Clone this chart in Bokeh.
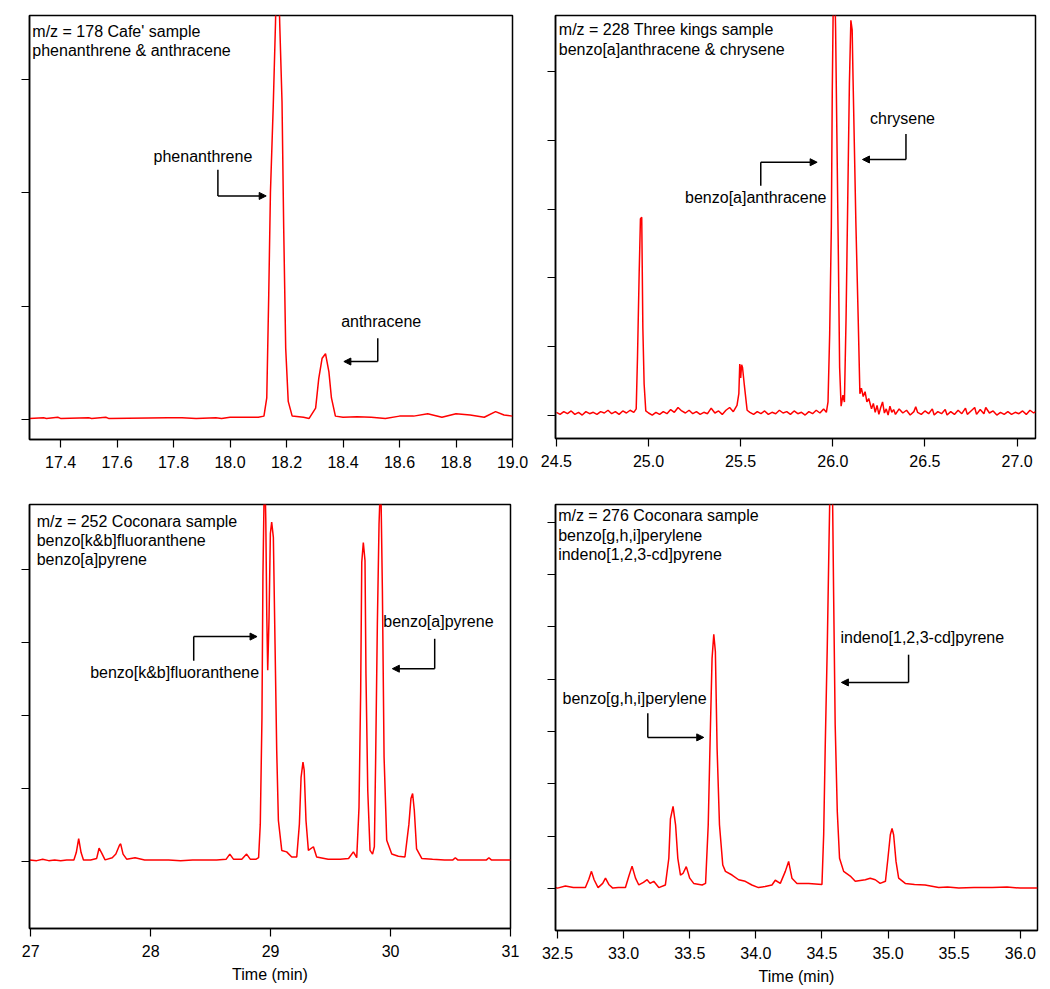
from bokeh.plotting import figure
from bokeh.layouts import gridplot
from bokeh.models import (Range1d, FixedTicker, Arrow, NormalHead, ColumnDataSource,
                          NumeralTickFormatter, CustomLabelingPolicy)
from bokeh.core.properties import value
from bokeh.embed import file_html
from bokeh.resources import INLINE

FONT = "Liberation Sans"

# ---------------- Panel 1: m/z 178 ----------------
p1_time = [17.29, 17.34, 17.35, 17.39, 17.40, 17.50, 17.51, 17.56, 17.57, 17.78, 17.83, 17.88, 17.95,
           17.97, 18.00, 18.05, 18.10, 18.12, 18.13, 18.137, 18.143, 18.153, 18.161, 18.168, 18.176,
           18.184, 18.19, 18.197, 18.206, 18.22, 18.26, 18.28, 18.303, 18.314, 18.326, 18.338, 18.35,
           18.359, 18.373, 18.40, 18.45, 18.50, 18.55, 18.60, 18.65, 18.70, 18.75, 18.80, 18.85, 18.90,
           18.94, 18.97, 19.00]
p1_int = [0.01, 0.015, 0.01, 0.02, 0.01, 0.015, 0.01, 0.02, 0.01, 0.015, 0.015, 0.01, 0.015,
          0.01, 0.02, 0.02, 0.02, 0.03, 0.19, 1.10, 2.00, 2.77, 3.50, 4.30, 3.48,
          2.80, 1.68, 0.63, 0.16, 0.03, 0.02, 0.01, 0.10, 0.36, 0.54, 0.58, 0.42,
          0.19, 0.03, 0.02, 0.025, 0.02, 0.01, 0.03, 0.03, 0.05, 0.02, 0.05, 0.04, 0.02,
          0.07, 0.04, 0.03]
p1_header = ["m/z = 178 Cafe' sample", "phenanthrene & anthracene"]
p1_xticks = [17.4, 17.6, 17.8, 18.0, 18.2, 18.4, 18.6, 18.8, 19.0]

# ---------------- Panel 2: m/z 228 ----------------
p2_time = [24.50, 24.52, 24.54, 24.56, 24.58, 24.60, 24.62, 24.64, 24.66, 24.68, 24.70, 24.72, 24.74,
           24.76, 24.78, 24.80, 24.82, 24.84, 24.86, 24.88, 24.90, 24.92, 24.933, 24.940, 24.949,
           24.956, 24.963, 24.969, 24.976, 24.985, 25.00, 25.02, 25.04, 25.06, 25.08, 25.10, 25.12,
           25.14, 25.16, 25.18, 25.20, 25.22, 25.24, 25.26, 25.28, 25.30, 25.32, 25.34, 25.36, 25.38,
           25.40, 25.42, 25.44, 25.46, 25.48, 25.49, 25.495, 25.50, 25.505, 25.51, 25.52, 25.535,
           25.55, 25.57, 25.59, 25.61, 25.63, 25.65, 25.67, 25.69, 25.71, 25.73, 25.75, 25.77, 25.79,
           25.81, 25.83, 25.85, 25.87, 25.89, 25.91, 25.93, 25.95, 25.965, 25.974, 25.983, 25.992,
           25.997, 26.004, 26.010, 26.015, 26.022, 26.030, 26.037, 26.045, 26.055, 26.063, 26.072,
           26.081, 26.090, 26.098, 26.105, 26.110, 26.125, 26.138, 26.147, 26.155, 26.165, 26.175,
           26.185, 26.195, 26.21, 26.22, 26.23, 26.24, 26.25, 26.26, 26.27, 26.28, 26.29, 26.30,
           26.31, 26.32, 26.33, 26.34, 26.36, 26.38, 26.40, 26.42, 26.44, 26.45, 26.46, 26.48, 26.50,
           26.52, 26.54, 26.55, 26.57, 26.59, 26.61, 26.62, 26.64, 26.66, 26.68, 26.70, 26.72, 26.73,
           26.75, 26.77, 26.78, 26.80, 26.82, 26.83, 26.85, 26.87, 26.89, 26.91, 26.93, 26.95, 26.97,
           26.99, 27.01, 27.03, 27.05, 27.07, 27.09, 27.10]
p2_int = [0.05, 0.02, 0.06, 0.03, 0.07, 0.02, 0.05, 0.01, 0.06, 0.03, 0.05, 0.02, 0.06,
          0.04, 0.08, 0.03, 0.06, 0.02, 0.07, 0.04, 0.08, 0.05, 0.10, 0.85, 2.06,
          2.86, 2.88, 1.28, 0.46, 0.07, 0.04, 0.01, 0.05, 0.02, 0.06, 0.03, 0.09,
          0.05, 0.12, 0.07, 0.04, 0.08, 0.03, 0.06, 0.02, 0.05, 0.03, 0.11, 0.04, 0.07,
          0.02, 0.08, 0.12, 0.06, 0.15, 0.32, 0.75, 0.55, 0.74, 0.70, 0.44, 0.08,
          0.05, 0.02, 0.06, 0.03, 0.07, 0.02, 0.05, 0.03, 0.08, 0.04, 0.06, 0.02, 0.07,
          0.03, 0.05, 0.01, 0.06, 0.03, 0.08, 0.04, 0.10, 0.05, 0.20, 1.19, 2.74,
          4.68, 6.40, 6.30, 5.64, 4.10, 2.35, 0.70, 0.14, 0.30, 0.20, 1.43,
          3.12, 4.82, 5.74, 5.60, 4.87, 2.82, 1.38, 0.32, 0.40, 0.28, 0.35,
          0.20, 0.25, 0.10, 0.18, 0.05, 0.15, 0.02, 0.12, 0.20, 0.04, 0.10, 0.01,
          0.14, 0.05, 0.09, 0.02, 0.10, 0.04, 0.08, 0.01, 0.06, 0.13, 0.05, 0.02, 0.07,
          0.03, 0.10, 0.01, 0.06, 0.03, 0.09, 0.01, 0.06, 0.02, 0.08, 0.03, 0.11, 0.02,
          0.07, 0.12, 0.02, 0.09, 0.03, 0.12, 0.04, 0.07, 0.01, 0.05, 0.02, 0.06, 0.02,
          0.05, 0.03, 0.07, 0.02, 0.08, 0.04, 0.06]
p2_header = ["m/z = 228 Three kings sample", "benzo[a]anthracene & chrysene"]
p2_xticks = [24.5, 25.0, 25.5, 26.0, 26.5, 27.0]

# ---------------- Panel 3: m/z 252 ----------------
p3_time = [26.99, 27.05, 27.10, 27.15, 27.20, 27.25, 27.30, 27.36, 27.38, 27.40, 27.42, 27.44,
           27.50, 27.55, 27.57, 27.59, 27.62, 27.68, 27.71, 27.74, 27.75, 27.77, 27.80, 27.87,
           27.95, 28.05, 28.15, 28.25, 28.35, 28.45, 28.55, 28.63, 28.66, 28.69, 28.76, 28.80,
           28.83, 28.88, 28.90, 28.914, 28.928, 28.936, 28.95, 28.96, 28.968, 28.976, 28.987,
           28.998, 29.009, 29.023, 29.037, 29.051, 29.065, 29.093, 29.134, 29.176, 29.218, 29.24,
           29.254, 29.27, 29.28, 29.295, 29.315, 29.357, 29.384, 29.48, 29.58, 29.65, 29.69, 29.718,
           29.737, 29.751, 29.76, 29.773, 29.787, 29.795, 29.81, 29.829, 29.85, 29.865, 29.876,
           29.89, 29.904, 29.918, 29.932, 29.946, 29.968, 30.01, 30.065, 30.12, 30.153, 30.17,
           30.184, 30.198, 30.217, 30.26, 30.35, 30.45, 30.52, 30.54, 30.56, 30.65, 30.75, 30.80,
           30.82, 30.84, 30.92, 31.00]
p3_int = [0.02, 0.01, 0.03, 0.01, 0.02, 0.01, 0.02, 0.02, 0.12, 0.31, 0.12, 0.02,
          0.02, 0.04, 0.18, 0.12, 0.02, 0.05, 0.10, 0.22, 0.24, 0.10, 0.03, 0.05,
          0.02, 0.02, 0.02, 0.01, 0.02, 0.02, 0.02, 0.03, 0.10, 0.03, 0.03, 0.10,
          0.03, 0.03, 0.05, 0.51, 1.97, 3.90, 5.50, 4.67, 3.39, 2.62, 3.34,
          4.49, 4.65, 4.44, 2.98, 1.52, 0.56, 0.15, 0.13, 0.06, 0.06, 0.51,
          1.15, 1.36, 1.25, 0.56, 0.15, 0.20, 0.06, 0.03, 0.03, 0.04, 0.13, 0.05,
          0.74, 2.34, 4.10, 4.37, 4.12, 2.57, 0.97, 0.15, 0.10, 0.20, 1.43,
          3.25, 4.62, 5.30, 3.71, 1.43, 0.29, 0.10, 0.07, 0.06, 0.51, 0.86,
          0.93, 0.70, 0.17, 0.04, 0.03, 0.02, 0.02, 0.05, 0.02, 0.02, 0.02, 0.02,
          0.05, 0.02, 0.02, 0.02]
p3_header = ["m/z = 252 Coconara sample", "benzo[k&b]fluoranthene", "benzo[a]pyrene"]
p3_xticks = [27, 28, 29, 30, 31]

# ---------------- Panel 4: m/z 276 ----------------
p4_time = [32.485, 32.50, 32.56, 32.62, 32.711, 32.737, 32.757, 32.777, 32.807, 32.842, 32.863,
           32.888, 32.918, 32.96, 33.014, 33.04, 33.064, 33.09, 33.115, 33.15, 33.178, 33.20,
           33.228, 33.266, 33.316, 33.342, 33.354, 33.374, 33.393, 33.41, 33.43, 33.449, 33.474,
           33.50, 33.53, 33.594, 33.62, 33.64, 33.657, 33.669, 33.682, 33.694, 33.707, 33.725,
           33.75, 33.77, 33.82, 33.87, 33.92, 33.97, 34.02, 34.07, 34.122, 34.147, 34.185, 34.223,
           34.248, 34.273, 34.311, 34.40, 34.50, 34.513, 34.525, 34.54, 34.553, 34.563, 34.578,
           34.588, 34.60, 34.616, 34.633, 34.664, 34.714, 34.752, 34.828, 34.865, 34.903, 34.94,
           34.98, 34.999, 35.017, 35.03, 35.042, 35.06, 35.08, 35.13, 35.20, 35.28, 35.383,
           35.45, 35.535, 35.65, 35.787, 35.90, 36.00, 36.13]
p4_int = [0.02, 0.01, 0.05, 0.02, 0.02, 0.18, 0.33, 0.17, 0.02, 0.10, 0.20,
          0.08, 0.01, 0.02, 0.02, 0.24, 0.43, 0.20, 0.07, 0.12, 0.17, 0.10,
          0.14, 0.02, 0.07, 0.58, 1.33, 1.57, 1.22, 0.58, 0.26, 0.29, 0.42,
          0.20, 0.10, 0.07, 0.10, 1.22, 3.13, 4.40, 4.86, 4.53, 2.68, 1.22,
          0.45, 0.33, 0.26, 0.17, 0.14, 0.07, 0.02, 0.04, 0.07, 0.16, 0.10, 0.33,
          0.52, 0.20, 0.10, 0.10, 0.08, 1.03, 2.75, 4.60, 6.57, 8.00, 8.00,
          5.68, 3.13, 1.47, 0.58, 0.33, 0.24, 0.14, 0.17, 0.20, 0.17, 0.10,
          0.14, 0.58, 1.03, 1.15, 1.03, 0.52, 0.20, 0.10, 0.08, 0.07, 0.02,
          0.03, 0.01, 0.02, 0.02, 0.03, 0.01, 0.01]
p4_header = ["m/z = 276 Coconara sample", "benzo[g,h,i]perylene", "indeno[1,2,3-cd]pyrene"]
p4_xticks = [32.5, 33.0, 33.5, 34.0, 34.5, 35.0, 35.5, 36.0]

# ---------------- Peak labels (text, text x, text y, elbow x, elbow y-start, corner y, arrow tip x) ----
p1_labels = [("phenanthrene", 17.904, 2.317, 17.957, 2.20, 1.97, 18.128),
             ("anthracene", 18.535, 0.863, 18.523, 0.716, 0.511, 18.403)]
p2_labels = [("chrysene", 26.378, 4.31, 26.397, 4.09, 3.72, 26.161),
             ("benzo[a]anthracene", 25.582, 3.17, 25.609, 3.34, 3.68, 25.915)]
p3_labels = [("benzo[k&b]fluoranthene", 28.20, 2.59, 28.359, 2.75, 3.08, 28.887),
             ("benzo[a]pyrene", 30.399, 3.28, 30.368, 3.05, 2.64, 30.015)]
p4_labels = [("indeno[1,2,3-cd]pyrene", 35.259, 4.79, 35.155, 4.47, 3.94, 34.647),
             ("benzo[g,h,i]perylene", 33.083, 3.63, 33.183, 3.35, 2.89, 33.606)]


def panel(t, y, xr, yr, xticks, yticks, fmt, header, hx, hy0, hdy, labels,
          fw, fh, bl, br, bt, bb, xlabel=None):
    p = figure(frame_width=fw, frame_height=fh, x_range=Range1d(*xr), y_range=Range1d(*yr),
               output_backend="svg", toolbar_location=None,
               min_border_left=bl, min_border_right=br, min_border_top=bt, min_border_bottom=bb)
    p.grid.visible = False
    p.outline_line_color = "black"
    p.outline_line_width = 1.5
    p.outline_line_alpha = 1.0
    p.background_fill_color = "white"
    p.border_fill_color = "white"

    p.line(t, y, line_color="#ff0000", line_width=1.5)

    # axes
    for ax in (p.xaxis[0], p.yaxis[0]):
        ax.axis_line_color = "black"
        ax.axis_line_width = 1.5
        ax.major_tick_line_color = "black"
        ax.major_tick_line_width = 1.2
        ax.major_tick_out = 8
        ax.major_tick_in = 0
        ax.minor_tick_line_color = None
    p.xaxis.ticker = FixedTicker(ticks=xticks)
    p.xaxis.formatter = NumeralTickFormatter(format=fmt)
    p.xaxis.major_label_text_font = FONT
    p.xaxis.major_label_text_font_size = "16px"
    p.xaxis.major_label_text_color = "black"
    p.xaxis.major_label_standoff = 8
    p.yaxis.ticker = FixedTicker(ticks=yticks)
    # unlabeled intensity axis: ticks only
    p.yaxis.major_label_policy = CustomLabelingPolicy(code="return []")
    p.yaxis.major_label_standoff = 0
    if xlabel:
        p.xaxis.axis_label = xlabel
        p.xaxis.axis_label_text_font = FONT
        p.xaxis.axis_label_text_font_size = "16px"
        p.xaxis.axis_label_text_font_style = "normal"
        p.xaxis.axis_label_text_color = "black"
        p.xaxis.axis_label_standoff = 6

    # header text
    hsrc = ColumnDataSource(dict(x=[hx] * len(header),
                                 y=[hy0 - i * hdy for i in range(len(header))],
                                 text=header))
    p.text(x="x", y="y", text="text", source=hsrc, text_font=value(FONT), text_font_size="16px",
           text_color="black", text_align="left", text_baseline="middle")

    # peak labels with elbow arrows
    lsrc = ColumnDataSource(dict(x=[l[1] for l in labels], y=[l[2] for l in labels],
                                 text=[l[0] for l in labels]))
    p.text(x="x", y="y", text="text", source=lsrc, text_font=value(FONT), text_font_size="16px",
           text_color="black", text_align="center", text_baseline="middle")
    p.segment(x0=[l[3] for l in labels], y0=[l[4] for l in labels],
              x1=[l[3] for l in labels], y1=[l[5] for l in labels],
              line_color="black", line_width=1.5)
    asrc = ColumnDataSource(dict(x0=[l[3] for l in labels], y0=[l[5] for l in labels],
                                 x1=[l[6] for l in labels], y1=[l[5] for l in labels]))
    p.add_layout(Arrow(x_start="x0", y_start="y0", x_end="x1", y_end="y1", source=asrc,
                       line_color="black", line_width=1.5,
                       end=NormalHead(size=7, fill_color="black", line_color="black", line_width=1)))
    return p


f1 = panel(p1_time, p1_int, (17.29, 19.0), (-0.176, 3.56), p1_xticks, [0, 1, 2, 3], "0.0",
           p1_header, 17.30, 3.42, 0.17, p1_labels, 483, 424, 29, 18, 14, 50)
f2 = panel(p2_time, p2_int, (24.495, 27.10), (-0.33, 5.81), p2_xticks, [0, 1, 2, 3, 4, 5], "0.0",
           p2_header, 24.513, 5.60, 0.28, p2_labels, 480, 423, 21, 11, 15, 50)
f3 = panel(p3_time, p3_int, (26.99, 31.0), (-0.92, 4.89), p3_xticks, [0, 1, 2, 3, 4], "0",
           p3_header, 27.05, 4.66, 0.265, p3_labels, 481, 424, 28, 21, 16, 60, xlabel="Time (min)")
f4 = panel(p4_time, p4_int, (32.485, 36.13), (-0.80, 7.34), p4_xticks, [0, 1, 2, 3, 4, 5, 6, 7], "0.0",
           p4_header, 32.505, 7.13, 0.375, p4_labels, 482, 426, 25, 5, 15, 59, xlabel="Time (min)")

grid = gridplot([[f1, f2], [f3, f4]], toolbar_location=None)
open("out.html", "w").write(file_html(grid, INLINE))
